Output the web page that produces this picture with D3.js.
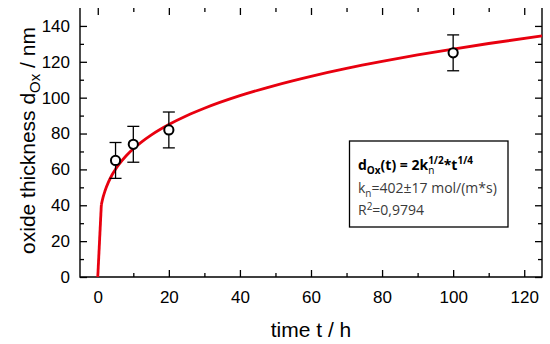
<!DOCTYPE html>
<html><head><meta charset="utf-8">
<script src="https://cdn.jsdelivr.net/npm/d3@7"></script>
<style>
html,body{margin:0;padding:0;background:#fff;}
svg{display:block;}
</style>
</head><body>
<svg id="c" width="550" height="344"></svg>
<script>
// ---- data ----
const timeH = [5, 10, 20, 100];
const thickness = [65, 74, 82, 125];
const errors = [10, 10, 10, 10];
const fitT = [0, 1, 1.5, 2, 3, 4, 5, 6, 8, 10, 12, 15, 20, 25, 30, 40, 50, 60, 70, 80, 90, 100, 110, 125];
const fitD = [0, 40.2, 44.5, 47.8, 52.9, 56.9, 60.1, 62.9, 67.6, 71.5, 74.8, 79.1, 85.0, 89.9, 94.1, 101.1, 106.9, 111.9, 116.3, 120.2, 123.8, 127.1, 130.2, 134.4];
const xTicks = [0, 20, 40, 60, 80, 100, 120];
const yTicks = [0, 20, 40, 60, 80, 100, 120, 140];

const svg = d3.select("#c");
const L = 80, R = 542, T = 8, B = 277;
const x = d3.scaleLinear().domain([-5, 125]).range([L, R]);
const y = d3.scaleLinear().domain([0, 150]).range([B, T]);
const tickFont = "'Liberation Sans', Arial, sans-serif";

// minor ticks
const xMinor = d3.range(10, 125, 20);
const yMinor = d3.range(10, 150, 20);

function axisGroup(axis, tr) {
  const g = svg.append("g").attr("transform", tr).call(axis);
  g.select(".domain").remove();
  g.selectAll("line").attr("stroke", "#000").attr("stroke-width", 1.3);
  g.selectAll("text").attr("font-family", tickFont).attr("font-size", 17).attr("fill", "#000");
  return g;
}
// bottom
axisGroup(d3.axisBottom(x).tickValues(xTicks).tickSize(-7).tickPadding(14).tickFormat(d3.format("d")), `translate(0,${B})`);
axisGroup(d3.axisBottom(x).tickValues(xMinor).tickSize(-4).tickFormat(""), `translate(0,${B})`);
// top
axisGroup(d3.axisTop(x).tickValues(xTicks).tickSize(-7).tickFormat(""), `translate(0,${T})`);
axisGroup(d3.axisTop(x).tickValues(xMinor).tickSize(-4).tickFormat(""), `translate(0,${T})`);
// left
axisGroup(d3.axisLeft(y).tickValues(yTicks).tickSize(-7).tickPadding(10).tickFormat(d3.format("d")), `translate(${L},0)`);
axisGroup(d3.axisLeft(y).tickValues(yMinor).tickSize(-4).tickFormat(""), `translate(${L},0)`);
// right
axisGroup(d3.axisRight(y).tickValues(yTicks).tickSize(-7).tickFormat(""), `translate(${R},0)`);
axisGroup(d3.axisRight(y).tickValues(yMinor).tickSize(-4).tickFormat(""), `translate(${R},0)`);

// frame
svg.append("path")
  .attr("d", `M${L},${T}V${B}H${R}V${T}`)
  .attr("fill", "none").attr("stroke", "#000").attr("stroke-width", 1.4);

// fit curve
const fitPts = fitT.map((t, i) => [t, fitD[i]]);
const lineLin = d3.line().x(d => x(d[0])).y(d => y(d[1]));
const lineSm = d3.line().x(d => x(d[0])).y(d => y(d[1])).curve(d3.curveMonotoneX);
svg.append("path").attr("d", lineLin(fitPts.slice(0, 2)))
  .attr("fill", "none").attr("stroke", "#e8000f").attr("stroke-width", 2.8);
svg.append("path").attr("d", lineSm(fitPts.slice(1)))
  .attr("fill", "none").attr("stroke", "#e8000f").attr("stroke-width", 2.8);

// error bars & points
const pts = timeH.map((t, i) => ({t, d: thickness[i], e: errors[i]}));
const eb = svg.append("g").attr("stroke", "#000").attr("stroke-width", 1.3);
pts.forEach(p => {
  eb.append("line").attr("x1", x(p.t)).attr("x2", x(p.t)).attr("y1", y(p.d - p.e)).attr("y2", y(p.d + p.e));
  eb.append("line").attr("x1", x(p.t) - 6).attr("x2", x(p.t) + 6).attr("y1", y(p.d - p.e)).attr("y2", y(p.d - p.e));
  eb.append("line").attr("x1", x(p.t) - 6).attr("x2", x(p.t) + 6).attr("y1", y(p.d + p.e)).attr("y2", y(p.d + p.e));
});
svg.append("g").selectAll("circle").data(pts).join("circle")
  .attr("cx", d => x(d.t)).attr("cy", d => y(d.d)).attr("r", 4.6)
  .attr("fill", "#fff").attr("stroke", "#000").attr("stroke-width", 2);

// axis titles
svg.append("text").attr("x", (L + R) / 2).attr("y", 337).attr("text-anchor", "middle")
  .attr("font-family", tickFont).attr("font-size", 21).attr("fill", "#000").text("time t / h");
const yl = svg.append("text").attr("transform", `translate(35,${(T + B) / 2 - 2}) rotate(-90)`)
  .attr("text-anchor", "middle").attr("font-family", tickFont).attr("font-size", 21).attr("fill", "#000");
yl.append("tspan").text("oxide thickness d");
yl.append("tspan").attr("font-size", 15).attr("dy", 5).text("Ox");
yl.append("tspan").attr("dy", -5).text(" / nm");

// legend box
svg.append("rect").attr("x", 349.5).attr("y", 141).attr("width", 158.5).attr("height", 86)
  .attr("fill", "#fff").attr("stroke", "#000").attr("stroke-width", 1.3);
const lf = "'Open Sans', 'Noto Sans', sans-serif";
const l1 = svg.append("text").attr("x", 358).attr("y", 170).attr("font-family", lf)
  .attr("font-size", 14).attr("font-weight", "bold").attr("fill", "#000");
l1.append("tspan").text("d");
l1.append("tspan").attr("font-size", 10).attr("dy", 4).text("Ox");
l1.append("tspan").attr("dy", -4).text("(t) = 2k");
const sub = l1.append("tspan").attr("font-size", 10).attr("dy", 4).attr("font-weight", "normal").text("n");
const sup = l1.append("tspan").attr("font-size", 10).attr("dy", -10).text("1/2");
l1.append("tspan").attr("dy", 6).text("*t");
l1.append("tspan").attr("font-size", 10).attr("dy", -6).text("1/4");
sup.attr("dx", -sub.node().getComputedTextLength());

const gray = "#3a3a3a";
const l2 = svg.append("text").attr("x", 358).attr("y", 193).attr("font-family", lf)
  .attr("font-size", 14).attr("fill", gray);
l2.append("tspan").text("k");
l2.append("tspan").attr("font-size", 10).attr("dy", 4).text("n");
l2.append("tspan").attr("dy", -4).text("=402±17 mol/(m*s)");
const l3 = svg.append("text").attr("x", 358).attr("y", 215).attr("font-family", lf)
  .attr("font-size", 14).attr("fill", gray);
l3.append("tspan").text("R");
l3.append("tspan").attr("font-size", 10).attr("dy", -5).text("2");
l3.append("tspan").attr("dy", 5).text("=0,9794");
</script>
</body></html>
